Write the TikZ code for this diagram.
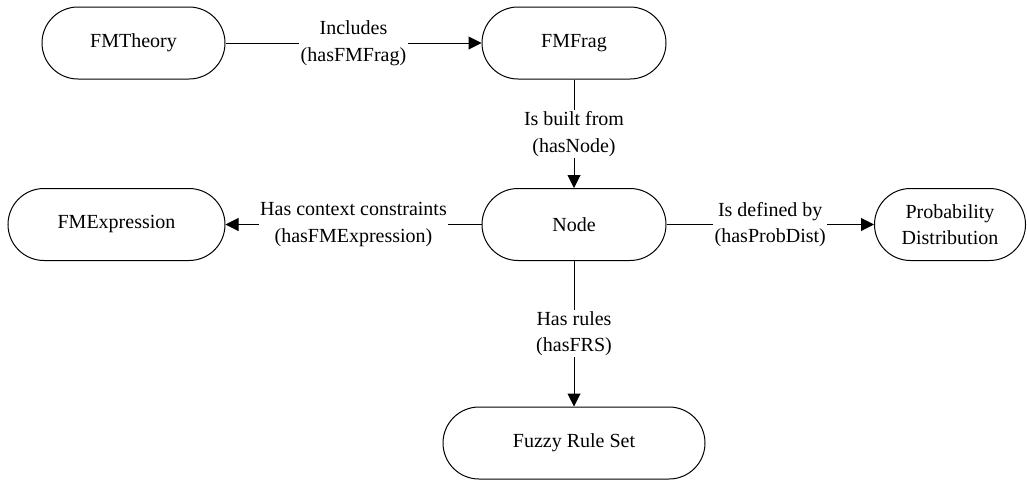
\documentclass[tikz,border=0pt]{standalone}
\usepackage{fontspec}
\setmainfont{LiberationSerif-Regular.ttf}
\newfontfamily\labelfont{LiberationSerif-Regular.ttf}
\usetikzlibrary{arrows.meta}

\tikzset{
  entity/.style={draw=black, line width=0.75pt, rounded corners=27pt,
    minimum height=54pt, inner sep=2pt, align=center,
    font=\labelfont\fontsize{15}{20}\selectfont},
  rel/.style={draw=black, line width=0.75pt,
    -{Triangle[length=9.75pt,width=9.75pt]}},
  rellabel/.style={fill=white, inner sep=1pt, align=center,
    font=\labelfont\fontsize{15}{20}\selectfont}
}

\begin{document}
\begin{tikzpicture}[x=0.75pt, y=-0.75pt]
  \useasboundingbox (0,0) rectangle (1027,479);

  % concepts
  \node[entity, minimum width=137.25pt] (theory) at (133.5,43) {FMTheory};
  \node[entity, minimum width=138pt]    (frag)   at (574,43)   {FMFrag};
  \node[entity, minimum width=138pt]    (node)   at (574,224.5) {Node};
  \node[entity, minimum width=162.75pt] (expr)   at (116.5,224.5) {FMExpression};
  \node[entity, minimum width=113.25pt] (prob)   at (950,224.5) {Probability\\Distribution};
  \node[entity, minimum width=196.5pt]  (frs)    at (574,443)  {Fuzzy Rule Set};

  % relations
  \draw[rel] (theory) -- node[rellabel] {Includes\\(hasFMFrag)} (frag);
  \draw[rel] (frag) -- node[rellabel] {Is built from\\(hasNode)} (node);
  \draw[rel] (node) -- node[rellabel] {Has context constraints\\(hasFMExpression)} (expr);
  \draw[rel] (node) -- node[rellabel] {Is defined by\\(hasProbDist)} (prob);
  \draw[rel] (node) -- node[rellabel] {Has rules\\(hasFRS)} (frs);
\end{tikzpicture}
\end{document}
